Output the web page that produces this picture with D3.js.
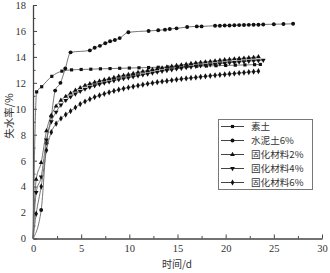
<!DOCTYPE html>
<html>
<head>
<meta charset="utf-8">
<script src="https://cdn.jsdelivr.net/npm/d3@7"></script>
<style>
  body { margin: 0; background: #fff; }
  text { font-family: "Liberation Serif", "Noto Sans CJK SC", serif; fill: #333; }
</style>
</head>
<body>
<div id="chart"></div>
<script>
// series names, as in the legend
var seriesNames = ['素土', '水泥土6%', '固化材料2%', '固化材料4%', '固化材料6%'];

// 素土
var plainDays = [0, 0.38, 0.9, 1.95, 3, 4, 5, 6, 7, 8, 9, 10, 11, 12, 13, 14, 15, 16, 17, 18, 19, 20, 21, 22, 23, 23.6];
var plainLoss = [0, 11.3, 11.7, 12.5, 12.9, 13.0, 13.03, 13.05, 13.08, 13.1, 13.12, 13.14, 13.16, 13.18, 13.2, 13.22, 13.24, 13.26, 13.28, 13.3, 13.32, 13.34, 13.36, 13.38, 13.4, 13.42];

// 水泥土6%
var cementDays = [0, 0.85, 1.4, 1.9, 2.3, 2.85, 3.35, 3.9, 5.9, 6.4, 6.95, 7.5, 8.0, 8.5, 9.0, 9.9, 12.0, 13.0, 13.7, 14.2, 14.9, 16.0, 17.0, 17.5, 18.9, 19.4, 19.9, 20.4, 20.9, 21.4, 21.9, 22.4, 22.9, 23.4, 23.9, 25, 26, 27];
var cementLoss = [0, 2.2, 7.35, 9.4, 11.4, 12.0, 13.1, 14.35, 14.5, 14.7, 14.85, 15.05, 15.2, 15.3, 15.45, 15.9, 16.0, 16.05, 16.1, 16.15, 16.2, 16.3, 16.35, 16.35, 16.4, 16.4, 16.42, 16.42, 16.44, 16.45, 16.46, 16.47, 16.48, 16.48, 16.5, 16.52, 16.53, 16.55];

// 固化材料 series share the sampling days
var agentDays = [0, 0.33, 0.85, 1.4, 1.9, 2.4, 2.9, 3.4, 3.9, 4.4, 4.9, 5.4, 5.9, 6.4, 6.9, 7.4, 7.9, 8.4, 8.9, 9.4, 9.9, 10.4, 10.9, 11.4, 11.9, 12.4, 12.9, 13.4, 13.9, 14.4, 14.9, 15.4, 15.9, 16.4, 16.9, 17.4, 17.9, 18.4, 18.9, 19.4, 19.9, 20.4, 20.9, 21.4, 21.9, 22.4, 22.9, 23.4, 23.9];
var agent2Loss = [0, 4.55, 5.85, 8.3, 9.5, 10.2, 10.65, 10.95, 11.2, 11.42, 11.62, 11.8, 11.92, 12.04, 12.13, 12.23, 12.32, 12.41, 12.5, 12.57, 12.64, 12.72, 12.8, 12.88, 12.95, 13.02, 13.08, 13.15, 13.21, 13.27, 13.33, 13.38, 13.43, 13.48, 13.53, 13.57, 13.61, 13.65, 13.69, 13.73, 13.77, 13.8, 13.84, 13.87, 13.9, 13.93, 13.96, 14.0];
var agent4Loss = [0, 3.55, 4.75, 7.6, 9.0, 9.75, 10.3, 10.65, 10.92, 11.15, 11.35, 11.52, 11.66, 11.78, 11.89, 11.99, 12.08, 12.17, 12.25, 12.33, 12.4, 12.47, 12.55, 12.62, 12.69, 12.76, 12.83, 12.9, 12.96, 13.02, 13.08, 13.13, 13.18, 13.23, 13.28, 13.32, 13.36, 13.4, 13.44, 13.48, 13.52, 13.55, 13.58, 13.61, 13.64, 13.67, 13.7, 13.72, 13.75];
var agent6Loss = [0, 1.9, 4.0, 6.8, 8.2, 8.85, 9.25, 9.55, 9.82, 10.1, 10.36, 10.56, 10.74, 10.9, 11.03, 11.15, 11.27, 11.38, 11.47, 11.56, 11.64, 11.71, 11.79, 11.86, 11.93, 11.99, 12.05, 12.1, 12.15, 12.2, 12.25, 12.3, 12.34, 12.38, 12.42, 12.46, 12.5, 12.54, 12.58, 12.62, 12.65, 12.69, 12.72, 12.76, 12.79, 12.83, 12.86, 12.9];

var xTicks = [0, 5, 10, 15, 20, 25, 30];
var yTicks = [0, 2, 4, 6, 8, 10, 12, 14, 16, 18];

function pairs(days, vals) {
    return vals.map(function(v, i) { return { x: days[i], y: v }; });
}

var series = [
    { name: seriesNames[0], data: pairs(plainDays, plainLoss), symbol: d3.symbolSquare, size: 10 },
    { name: seriesNames[1], data: pairs(cementDays, cementLoss), symbol: d3.symbolCircle, size: 12 },
    { name: seriesNames[2], data: pairs(agentDays, agent2Loss), symbol: d3.symbolTriangle, size: 10 },
    { name: seriesNames[3], data: pairs(agentDays, agent4Loss), symbol: d3.symbolTriangle, size: 10, flip: true },
    { name: seriesNames[4], data: pairs(agentDays, agent6Loss), symbol: d3.symbolDiamond, size: 11 }
];

var width = 330, height = 273;
var svg = d3.select("#chart").append("svg")
    .attr("width", width)
    .attr("height", height);

var x = d3.scaleLinear().domain([0, 30]).range([33, 322]);
var y = d3.scaleLinear().domain([0, 18]).range([238.5, 5]);

var axisColor = "#444";

// minor ticks first, then the major axes on top
svg.append("g")
    .attr("transform", "translate(0," + y(0) + ")")
    .call(d3.axisBottom(x).tickValues(d3.range(2.5, 30, 5)).tickSize(-2.5).tickFormat(""))
    .call(function(g) { g.select(".domain").remove(); g.selectAll("line").attr("stroke", axisColor); });

svg.append("g")
    .attr("transform", "translate(" + x(0) + ",0)")
    .call(d3.axisLeft(y).tickValues(d3.range(1, 18, 2)).tickSize(-2.5).tickFormat(""))
    .call(function(g) { g.select(".domain").remove(); g.selectAll("line").attr("stroke", axisColor); });

var xAxis = svg.append("g")
    .attr("transform", "translate(0," + y(0) + ")")
    .call(d3.axisBottom(x).tickValues(xTicks).tickSize(-4).tickPadding(6).tickSizeOuter(0));
xAxis.select(".domain").attr("stroke", axisColor).attr("stroke-width", 1.3);
xAxis.selectAll("line").attr("stroke", axisColor);
xAxis.selectAll("text").style("font-size", "10.5px").style("font-family", "Liberation Serif").attr("fill", "#333");

var yAxis = svg.append("g")
    .attr("transform", "translate(" + x(0) + ",0)")
    .call(d3.axisLeft(y).tickValues(yTicks).tickSize(-4).tickPadding(7).tickSizeOuter(0));
yAxis.select(".domain").attr("stroke", axisColor).attr("stroke-width", 1.3);
yAxis.selectAll("line").attr("stroke", axisColor);
yAxis.selectAll("text").style("font-size", "10.5px").style("font-family", "Liberation Serif").attr("fill", "#333");

// axis titles
svg.append("text")
    .attr("x", 177).attr("y", 268)
    .attr("text-anchor", "middle")
    .style("font-size", "10px")
    .style("font-family", "'Noto Sans CJK SC', 'Liberation Serif'")
    .text("时间/d");

svg.append("text")
    .attr("transform", "translate(13,116) rotate(-90)")
    .attr("text-anchor", "middle")
    .style("font-size", "10.5px")
    .style("font-family", "'Noto Sans CJK SC', 'Liberation Serif'")
    .text("失水率/%");

var line = d3.line()
    .x(function(d) { return x(d.x); })
    .y(function(d) { return y(d.y); })
    .curve(d3.curveMonotoneX);

function markerTransform(s, px, py) {
    return "translate(" + px + "," + py + ")" + (s.flip ? " rotate(180)" : "");
}

series.forEach(function(s) {
    svg.append("path")
        .datum(s.data)
        .attr("d", line)
        .attr("fill", "none")
        .attr("stroke", "#666")
        .attr("stroke-width", 0.9);

    svg.selectAll(null)
        .data(s.data.slice(1))
        .enter().append("path")
        .attr("d", d3.symbol().type(s.symbol).size(s.size))
        .attr("transform", function(d) { return markerTransform(s, x(d.x), y(d.y)); })
        .attr("fill", "#111");
});

// legend
var legend = svg.append("g");
legend.append("rect")
    .attr("x", 218.5).attr("y", 119.5)
    .attr("width", 94).attr("height", 70)
    .attr("fill", "#fff")
    .attr("stroke", "#777");

series.forEach(function(s, i) {
    var ly = 126.5 + i * 14;
    legend.append("line")
        .attr("x1", 221).attr("x2", 244)
        .attr("y1", ly).attr("y2", ly)
        .attr("stroke", "#444").attr("stroke-width", 1);
    legend.append("path")
        .attr("d", d3.symbol().type(s.symbol).size(s.size))
        .attr("transform", markerTransform(s, 232.5, ly))
        .attr("fill", "#111");
    legend.append("text")
        .attr("x", 251).attr("y", ly + 3.5)
        .style("font-size", "9.6px")
        .style("font-family", "'Noto Sans CJK SC', 'Liberation Serif'")
        .text(s.name);
});
</script>
</body>
</html>
